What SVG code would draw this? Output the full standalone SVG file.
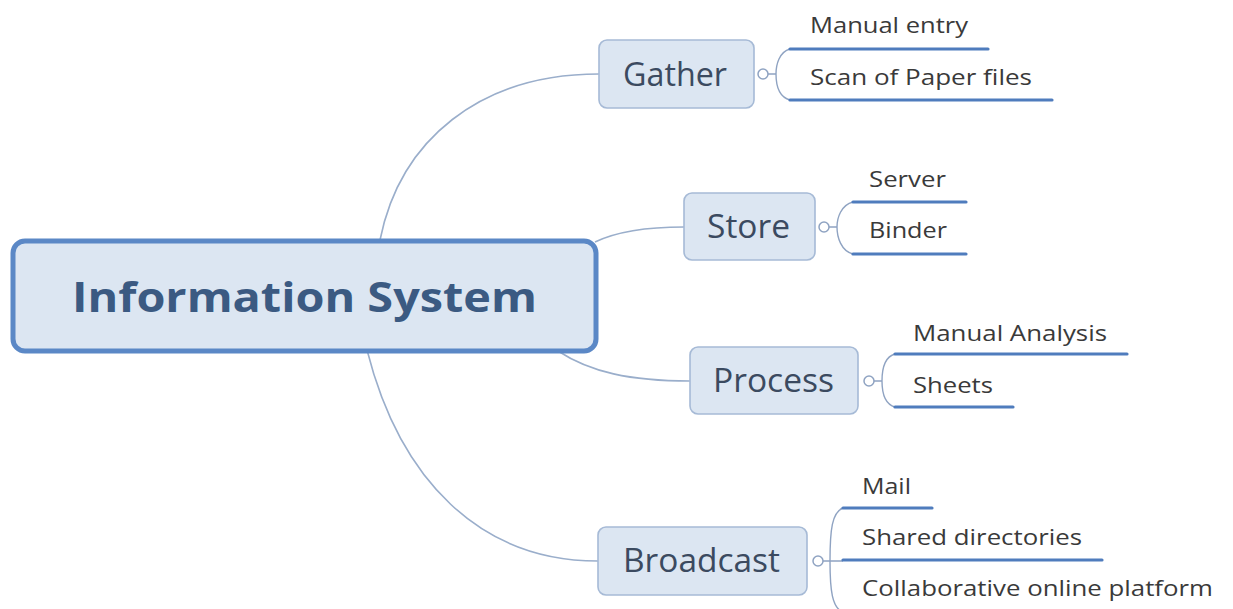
<svg xmlns="http://www.w3.org/2000/svg" width="1233" height="609" viewBox="0 0 1233 609">
<style>
.conn{fill:none;stroke:#9aaecb;stroke-width:1.6}
.brace{fill:none;stroke:#8fa3c2;stroke-width:1.4}
.knob{fill:#ffffff;stroke:#8fa3c2;stroke-width:1.5}
.ul{stroke:#4f7cbd;stroke-width:3.2;stroke-linecap:round}
.box{fill:#dce6f2;stroke:#a6bad6;stroke-width:1.6}
.main{fill:#dce6f2;stroke:#5b88c6;stroke-width:5}
.title{font-family:"Open Sans","Noto Sans",sans-serif;font-weight:bold;font-size:42px;fill:#3b5a82}
.node{font-family:"Open Sans","Noto Sans",sans-serif;font-size:32px;fill:#3b4a60}
.leaf{font-family:"Open Sans","Noto Sans",sans-serif;font-size:22px;fill:#3a3a3a}
</style>
<rect width="1233" height="609" fill="#ffffff"/>
<g id="connectors">
<path class="conn" d="M380,240 C400,140 480,74 599,74"/>
<path class="conn" d="M595,242 C620,230 650,227 684,227"/>
<path class="conn" d="M558,351 C590,372 630,381 690,381"/>
<path class="conn" d="M367,350 C400,480 480,561 598,561"/>
</g>
<g id="information-system">
<rect class="main" x="13" y="241" width="583" height="110" rx="12"/>
<text class="title" x="72" y="312" textLength="465" lengthAdjust="spacingAndGlyphs">Information System</text>
</g>
<g id="gather">
<rect class="box" x="599" y="40" width="155" height="68" rx="8"/>
<text class="node" x="623" y="86" textLength="104" lengthAdjust="spacingAndGlyphs">Gather</text>
<path class="brace" d="M768,74 L776,74 M790,49 C779,52 776,65 776,74 C776,85 779,97 790,100"/>
<circle class="knob" cx="763" cy="74" r="5"/>
</g>
<g id="manual-entry">
<text class="leaf" x="810" y="33" textLength="158" lengthAdjust="spacingAndGlyphs">Manual entry</text>
<line class="ul" x1="790" y1="49" x2="988" y2="49"/>
</g>
<g id="scan-of-paper-files">
<text class="leaf" x="810" y="85" textLength="222" lengthAdjust="spacingAndGlyphs">Scan of Paper files</text>
<line class="ul" x1="790" y1="100" x2="1052" y2="100"/>
</g>
<g id="store">
<rect class="box" x="684" y="193" width="131" height="67" rx="8"/>
<text class="node" x="707" y="238" textLength="83" lengthAdjust="spacingAndGlyphs">Store</text>
<path class="brace" d="M829,227 L837,227 M853,202 C841,205 837,218 837,227 C837,237 841,251 853,254"/>
<circle class="knob" cx="824" cy="227" r="5"/>
</g>
<g id="server">
<text class="leaf" x="869" y="187" textLength="77" lengthAdjust="spacingAndGlyphs">Server</text>
<line class="ul" x1="853" y1="202" x2="966" y2="202"/>
</g>
<g id="binder">
<text class="leaf" x="869" y="238" textLength="78" lengthAdjust="spacingAndGlyphs">Binder</text>
<line class="ul" x1="853" y1="254" x2="966" y2="254"/>
</g>
<g id="process">
<rect class="box" x="690" y="347" width="168" height="67" rx="8"/>
<text class="node" x="713" y="392" textLength="121" lengthAdjust="spacingAndGlyphs">Process</text>
<path class="brace" d="M874,381 L882,381 M895,354 C884,357 882,371 882,381 C882,391 884,404 895,407"/>
<circle class="knob" cx="869" cy="381" r="5"/>
</g>
<g id="manual-analysis">
<text class="leaf" x="913" y="341" textLength="194" lengthAdjust="spacingAndGlyphs">Manual Analysis</text>
<line class="ul" x1="895" y1="354" x2="1127" y2="354"/>
</g>
<g id="sheets">
<text class="leaf" x="913" y="393" textLength="80" lengthAdjust="spacingAndGlyphs">Sheets</text>
<line class="ul" x1="895" y1="407" x2="1013" y2="407"/>
</g>
<g id="broadcast">
<rect class="box" x="598" y="527" width="209" height="68" rx="8"/>
<text class="node" x="623" y="572" textLength="157" lengthAdjust="spacingAndGlyphs">Broadcast</text>
<path class="brace" d="M823,561 L843,561 M843,508 C832,512 830,530 830,561 C830,590 832,608 843,612"/>
<circle class="knob" cx="818" cy="561" r="5"/>
</g>
<g id="mail">
<text class="leaf" x="862" y="494" textLength="49" lengthAdjust="spacingAndGlyphs">Mail</text>
<line class="ul" x1="843" y1="508" x2="932" y2="508"/>
</g>
<g id="shared-directories">
<text class="leaf" x="862" y="545" textLength="220" lengthAdjust="spacingAndGlyphs">Shared directories</text>
<line class="ul" x1="843" y1="560" x2="1102" y2="560"/>
</g>
<g id="collaborative-online-platform">
<text class="leaf" x="862" y="596" textLength="351" lengthAdjust="spacingAndGlyphs">Collaborative online platform</text>
<line class="ul" x1="843" y1="612" x2="1228" y2="612"/>
</g>
</svg>
